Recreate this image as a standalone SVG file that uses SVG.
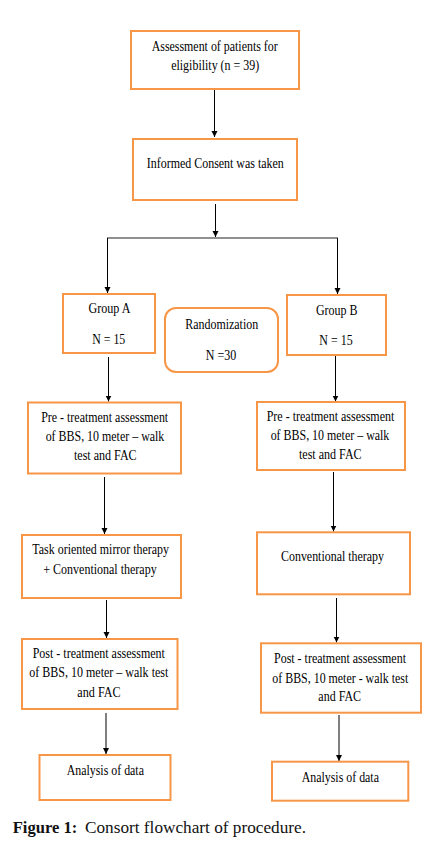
<svg xmlns="http://www.w3.org/2000/svg" width="435" height="842" viewBox="0 0 435 842">
<defs>
<marker id="ah" markerUnits="userSpaceOnUse" markerWidth="6" markerHeight="7" refX="6" refY="3" orient="auto">
<path d="M0,0 L6,3 L0,6 z" fill="#000"/>
</marker>
<style>
.box{fill:#fff;stroke:#F79646;stroke-width:2}
.t{font-family:"Liberation Serif","Times New Roman",serif;font-size:14px;fill:#000;text-anchor:middle}
.c{stroke:#000;stroke-width:1;fill:none}
.cap{font-family:"Liberation Serif","Times New Roman",serif;font-size:16px;fill:#111}
</style>
</defs>
<rect width="435" height="842" fill="#fff"/>
<g id="connectors">
<line class="c" x1="214.5" y1="89" x2="214.5" y2="137" marker-end="url(#ah)"/>
<line class="c" x1="215.5" y1="204" x2="215.5" y2="237" marker-end="url(#ah)"/>
<line x1="107" y1="238" x2="338" y2="238" stroke="#6b6b6b" stroke-width="1.6"/>
<line class="c" x1="107.5" y1="238" x2="107.5" y2="293" marker-end="url(#ah)"/>
<line class="c" x1="337.5" y1="238" x2="337.5" y2="294" marker-end="url(#ah)"/>
<line class="c" x1="108.5" y1="357" x2="108.5" y2="401.5" marker-end="url(#ah)"/>
<line class="c" x1="335.5" y1="355" x2="335.5" y2="401.5" marker-end="url(#ah)"/>
<line class="c" x1="104.5" y1="477" x2="104.5" y2="534" marker-end="url(#ah)"/>
<line class="c" x1="333.5" y1="472" x2="333.5" y2="531.5" marker-end="url(#ah)"/>
<line class="c" x1="106.5" y1="600" x2="106.5" y2="638" marker-end="url(#ah)"/>
<line class="c" x1="336.5" y1="598" x2="336.5" y2="642.5" marker-end="url(#ah)"/>
<line class="c" x1="106" y1="713" x2="106" y2="754" marker-end="url(#ah)"/>
<line class="c" x1="339" y1="715" x2="339" y2="761" marker-end="url(#ah)"/>
</g>
<g id="assessment">
<rect class="box" x="131" y="31" width="168" height="58"/>
<text class="t" x="214.7" y="51" textLength="126" lengthAdjust="spacingAndGlyphs">Assessment of patients for</text>
<text class="t" x="215.2" y="70" textLength="88" lengthAdjust="spacingAndGlyphs">eligibility (n = 39)</text>
</g>
<g id="consent">
<rect class="box" x="133" y="139" width="164" height="61"/>
<text class="t" x="215.3" y="168" textLength="137" lengthAdjust="spacingAndGlyphs">Informed Consent was taken</text>
</g>
<g id="groupA">
<rect class="box" x="63" y="294" width="92" height="59"/>
<text class="t" x="109.5" y="313.3" textLength="42" lengthAdjust="spacingAndGlyphs">Group A</text>
<text class="t" x="108.8" y="344" textLength="33" lengthAdjust="spacingAndGlyphs">N = 15</text>
</g>
<g id="randomization">
<rect class="box" x="165" y="308" width="113" height="64" rx="11" ry="11"/>
<text class="t" x="221.7" y="329" textLength="73" lengthAdjust="spacingAndGlyphs">Randomization</text>
<text class="t" x="221" y="360" textLength="30.5" lengthAdjust="spacingAndGlyphs">N =30</text>
</g>
<g id="groupB">
<rect class="box" x="287" y="295" width="99" height="60"/>
<text class="t" x="336.8" y="314.7" textLength="41.7" lengthAdjust="spacingAndGlyphs">Group B</text>
<text class="t" x="336" y="344.7" textLength="33.3" lengthAdjust="spacingAndGlyphs">N = 15</text>
</g>
<g id="preA">
<rect class="box" x="28" y="402.5" width="153" height="71"/>
<text class="t" x="104.7" y="421.7" textLength="127" lengthAdjust="spacingAndGlyphs">Pre - treatment assessment</text>
<text class="t" x="105" y="440.7" textLength="118.7" lengthAdjust="spacingAndGlyphs">of BBS, 10 meter – walk</text>
<text class="t" x="105.3" y="460" textLength="62.7" lengthAdjust="spacingAndGlyphs">test and FAC</text>
</g>
<g id="preB">
<rect class="box" x="257" y="402" width="148" height="68"/>
<text class="t" x="330.5" y="420.7" textLength="127.7" lengthAdjust="spacingAndGlyphs">Pre - treatment assessment</text>
<text class="t" x="330" y="440" textLength="118.7" lengthAdjust="spacingAndGlyphs">of BBS, 10 meter – walk</text>
<text class="t" x="330.3" y="458.7" textLength="62.7" lengthAdjust="spacingAndGlyphs">test and FAC</text>
</g>
<g id="therapyA">
<rect class="box" x="22" y="535" width="159" height="63"/>
<text class="t" x="100.7" y="554" textLength="136.7" lengthAdjust="spacingAndGlyphs">Task oriented mirror therapy</text>
<text class="t" x="100" y="574" textLength="113.3" lengthAdjust="spacingAndGlyphs">+ Conventional therapy</text>
</g>
<g id="therapyB">
<rect class="box" x="257" y="532.3" width="153" height="62"/>
<text class="t" x="332.5" y="560.7" textLength="103" lengthAdjust="spacingAndGlyphs">Conventional therapy</text>
</g>
<g id="postA">
<rect class="box" x="22" y="639" width="155.5" height="70"/>
<text class="t" x="98.8" y="658.3" textLength="132.3" lengthAdjust="spacingAndGlyphs">Post - treatment assessment</text>
<text class="t" x="98.8" y="677.3" textLength="139" lengthAdjust="spacingAndGlyphs">of BBS, 10 meter – walk test</text>
<text class="t" x="99" y="696.7" textLength="43.3" lengthAdjust="spacingAndGlyphs">and FAC</text>
</g>
<g id="postB">
<rect class="box" x="261" y="643.3" width="160" height="69.4"/>
<text class="t" x="340" y="663.3" textLength="132" lengthAdjust="spacingAndGlyphs">Post - treatment assessment</text>
<text class="t" x="340.3" y="682.7" textLength="136" lengthAdjust="spacingAndGlyphs">of BBS, 10 meter - walk test</text>
<text class="t" x="339.7" y="701" textLength="42.7" lengthAdjust="spacingAndGlyphs">and FAC</text>
</g>
<g id="analysisA">
<rect class="box" x="39.5" y="755" width="131" height="45"/>
<text class="t" x="105.3" y="775" textLength="77.3" lengthAdjust="spacingAndGlyphs">Analysis of data</text>
</g>
<g id="analysisB">
<rect class="box" x="272" y="761.7" width="136.3" height="39"/>
<text class="t" x="340.3" y="781.7" textLength="77.3" lengthAdjust="spacingAndGlyphs">Analysis of data</text>
</g>
<g id="caption">
<text class="cap" x="12.7" y="833.3" font-weight="bold" textLength="64.6" lengthAdjust="spacingAndGlyphs">Figure 1:</text>
<text class="cap" x="85" y="833.3" textLength="221" lengthAdjust="spacingAndGlyphs">Consort flowchart of procedure.</text>
</g>
</svg>
